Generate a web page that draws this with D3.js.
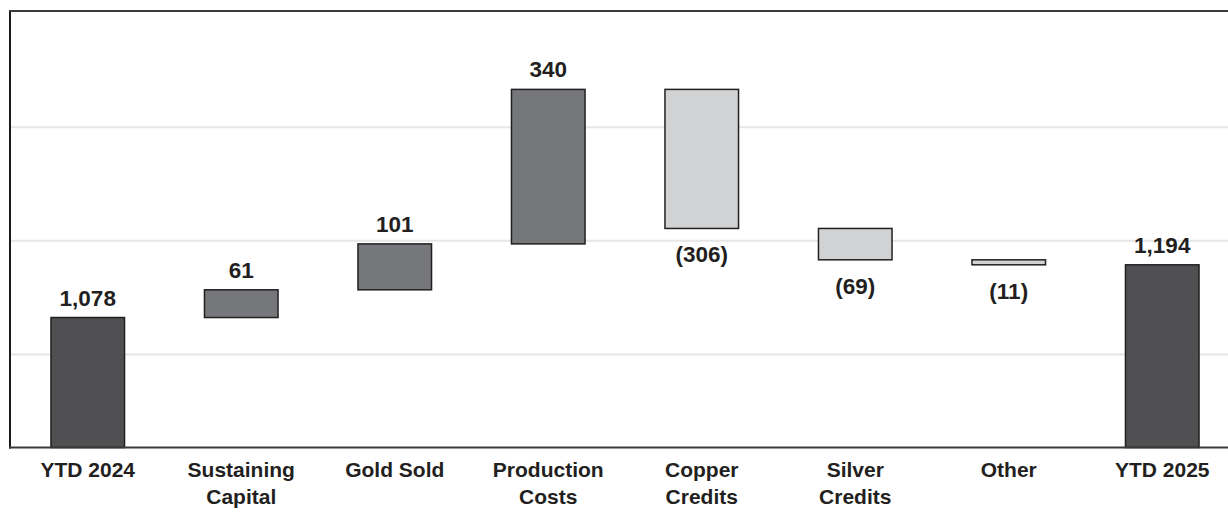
<!DOCTYPE html>
<html>
<head>
<meta charset="utf-8">
<script src="https://cdn.jsdelivr.net/npm/d3@7"></script>
<style>
  html, body { margin: 0; padding: 0; background: #fff; }
  svg { display: block; }
  text { font-family: "Liberation Sans", Arial, sans-serif; font-weight: bold; fill: #231f20; }
</style>
</head>
<body>
<svg id="chart" width="1228" height="512"></svg>
<script>
// Waterfall: AISC bridge from YTD 2024 to YTD 2025
const categories = ["YTD 2024", "Sustaining Capital", "Gold Sold", "Production Costs",
                    "Copper Credits", "Silver Credits", "Other", "YTD 2025"];
const categoryLines = [["YTD 2024"], ["Sustaining", "Capital"], ["Gold Sold"], ["Production", "Costs"],
                       ["Copper", "Credits"], ["Silver", "Credits"], ["Other"], ["YTD 2025"]];
const values = [1078, 61, 101, 340, -306, -69, -11, 1194];
const kinds = ["total", "step", "step", "step", "step", "step", "step", "total"];
const gridValues = [1000, 1250, 1500];
const yDomain = [792, 1752.5];

const W = 1228, H = 512;
const plot = { left: 11, right: 1239, top: 11, bottom: 447.5 };

const svg = d3.select("#chart");

const x = d3.scaleBand()
  .domain(categories)
  .range([plot.left, plot.right])
  .paddingInner(0.511)
  .paddingOuter(0.2555);

const y = d3.scaleLinear()
  .domain(yDomain)
  .range([plot.bottom, plot.top]);

// running totals for each step
let running = 0;
const bars = categories.map((c, i) => {
  let start, end;
  if (kinds[i] === "total") {
    start = yDomain[0];
    end = values[i];
    running = values[i];
  } else {
    start = running;
    end = running + values[i];
    running = end;
  }
  return { cat: c, value: values[i], kind: kinds[i], start, end };
});

const fillFor = d => d.kind === "total" ? "#505052" : (d.value >= 0 ? "#76777a" : "#d1d2d4");

// gridlines
svg.append("g")
  .selectAll("line")
  .data(gridValues)
  .join("line")
  .attr("x1", plot.left)
  .attr("x2", W)
  .attr("y1", d => y(d) + 1.5)
  .attr("y2", d => y(d) + 1.5)
  .attr("stroke", "#e6e6e6")
  .attr("stroke-width", 2);

// bars
svg.append("g")
  .selectAll("rect")
  .data(bars)
  .join("rect")
  .attr("x", d => x(d.cat) + 0.75)
  .attr("width", x.bandwidth() - 1.5)
  .attr("y", d => y(Math.max(d.start, d.end)))
  .attr("height", d => Math.abs(y(d.start) - y(d.end)))
  .attr("fill", fillFor)
  .attr("stroke", "#231f20")
  .attr("stroke-width", 1.5);

// value labels
const fmt = d3.format(",");
const labelText = d => d.value < 0 ? `(${fmt(-d.value)})` : fmt(d.value);
svg.append("g")
  .selectAll("text")
  .data(bars)
  .join("text")
  .attr("x", d => x(d.cat) + x.bandwidth() / 2)
  .attr("y", d => d.value < 0 && d.kind !== "total"
    ? y(Math.min(d.start, d.end)) + 34
    : y(Math.max(d.start, d.end)) - 12)
  .attr("text-anchor", "middle")
  .attr("font-size", 22.5)
  .text(labelText);

// frame: left and top borders, baseline
svg.append("line")
  .attr("x1", plot.left - 1).attr("x2", plot.left - 1)
  .attr("y1", plot.top - 1).attr("y2", plot.bottom + 1)
  .attr("stroke", "#1a1a1a").attr("stroke-width", 2);
svg.append("line")
  .attr("x1", plot.left - 2).attr("x2", W)
  .attr("y1", plot.top).attr("y2", plot.top)
  .attr("stroke", "#3a3a3a").attr("stroke-width", 2);
svg.append("line")
  .attr("x1", plot.left - 2).attr("x2", W)
  .attr("y1", plot.bottom).attr("y2", plot.bottom)
  .attr("stroke", "#3a3a3a").attr("stroke-width", 2);

// category labels
const cat = svg.append("g")
  .selectAll("text")
  .data(categories)
  .join("text")
  .attr("x", d => x(d) + x.bandwidth() / 2)
  .attr("y", 477)
  .attr("text-anchor", "middle")
  .attr("font-size", 21);
cat.each(function(d, i) {
  d3.select(this).selectAll("tspan")
    .data(categoryLines[i])
    .join("tspan")
    .attr("x", x(d) + x.bandwidth() / 2)
    .attr("dy", (t, j) => j === 0 ? 0 : 27)
    .text(t => t);
});
</script>
</body>
</html>
